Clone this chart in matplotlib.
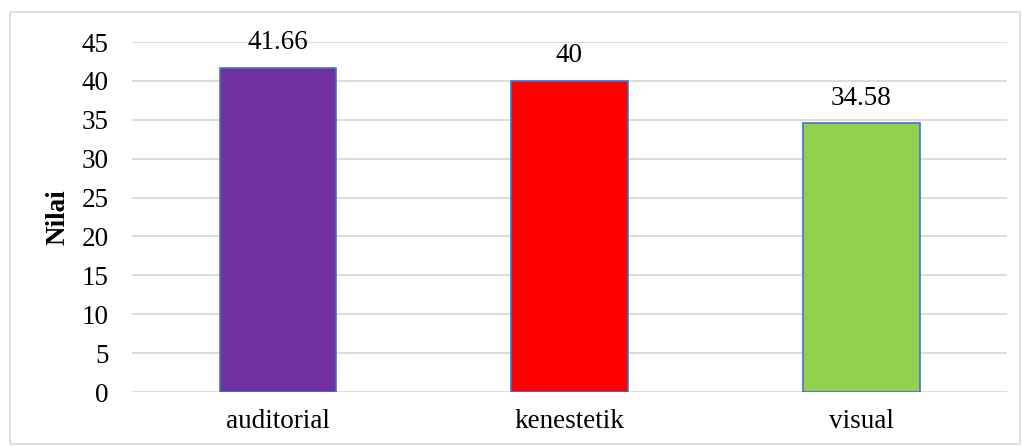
import matplotlib.pyplot as plt
from matplotlib.patches import Rectangle

# --- dados ---
kategori = ['auditorial', 'kenestetik', 'visual']
nilai = [41.66, 40, 34.58]
label_nilai = ['41.66', '40', '34.58']
warna = ['#7030A0', '#FF0000', '#92D050']
yticks = [0, 5, 10, 15, 20, 25, 30, 35, 40, 45]

plt.rcParams['font.family'] = ['Liberation Serif', 'DejaVu Serif']
FS = 19.5

W, H = 1022, 446
fig = plt.figure(figsize=(W / 100, H / 100), dpi=100)
ax = fig.add_axes([132 / W, 1 - 392 / H, (1007 - 132) / W, (392 - 42) / H])

x = range(len(kategori))
ax.bar(x, nilai, width=0.40, color=warna, edgecolor='#4472C4', linewidth=1.2, zorder=3)
for xi, v, lab in zip(x, nilai, label_nilai):
    ax.annotate(lab, (xi, v), xytext=(0, 9), textcoords='offset points',
                ha='center', va='bottom', fontsize=FS)

ax.set_xlim(-0.5, 2.5)
ax.set_ylim(0, 45)
ax.set_yticks(yticks)
ax.set_xticks(list(x))
ax.set_xticklabels(kategori)
ax.tick_params(axis='both', length=0, labelsize=FS)
ax.tick_params(axis='y', pad=17)
ax.tick_params(axis='x', pad=12)
ax.grid(axis='y', color='#D9D9D9', linewidth=1.3, zorder=0)
for s in ax.spines.values():
    s.set_visible(False)
ax.set_ylabel('Nilai', fontsize=FS, fontweight='bold', labelpad=8)

# bingkai luar
fig.patches.append(Rectangle((10 / W, 2 / H), 1010 / W, (444 - 12) / H,
                             transform=fig.transFigure, fill=False,
                             edgecolor='#D9D9D9', linewidth=1.2))

fig.savefig('out.png', dpi=100)
